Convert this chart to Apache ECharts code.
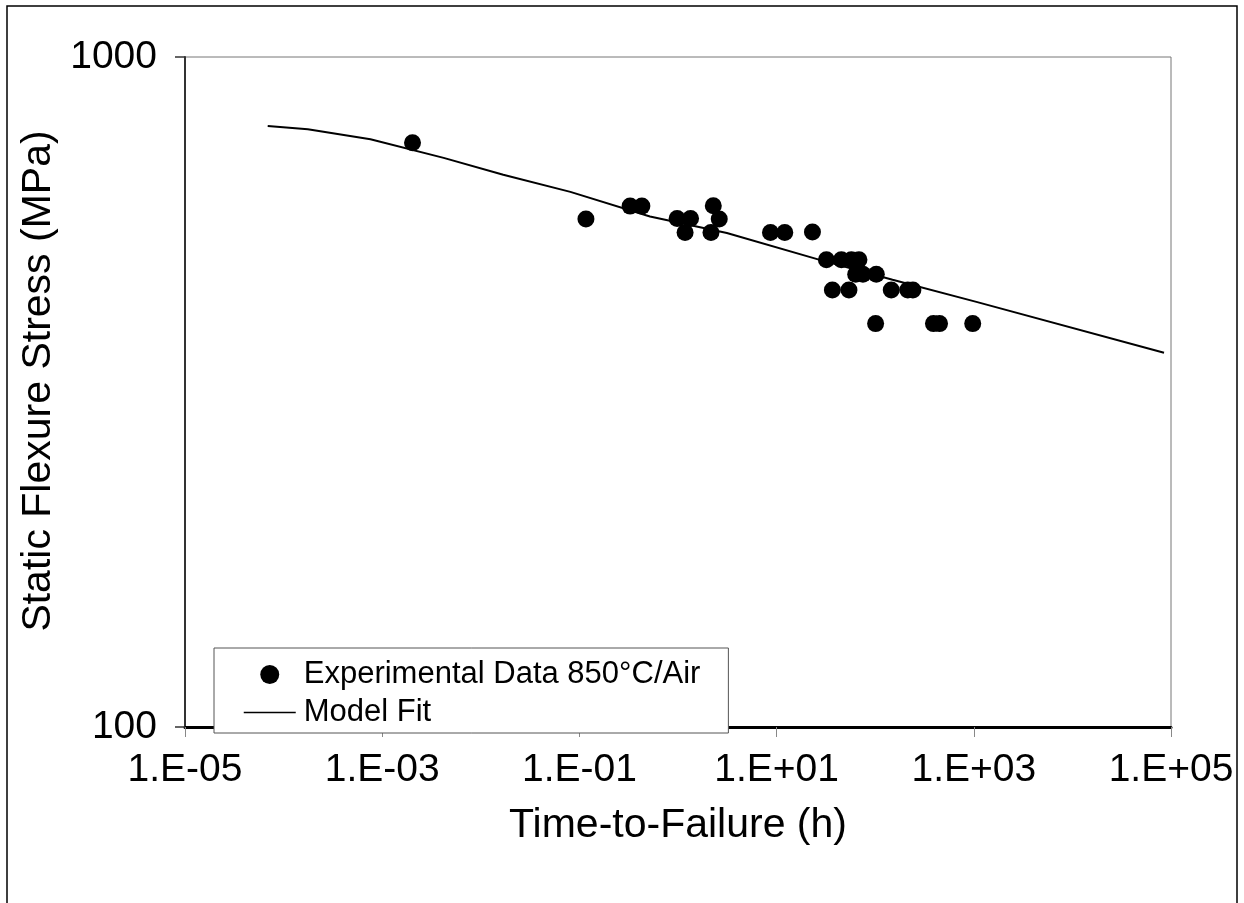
<!DOCTYPE html>
<html>
<head>
<meta charset="utf-8">
<title>Static Flexure Stress vs Time-to-Failure</title>
<script src="https://cdn.jsdelivr.net/npm/echarts@6/dist/echarts.min.js"></script>
<style>
  html, body { margin: 0; padding: 0; background: #fff; }
  #chart { width: 1244px; height: 903px; }
</style>
</head>
<body>
<div id="chart"></div>
<script>
// Experimental static fatigue data at 850°C in air
const expTime = [0.00203, 0.1165, 0.327, 0.43, 0.98, 1.34, 1.18, 2.28, 2.62, 2.16,
  8.67, 12.1, 23.1, 32, 45.4, 57.3, 68.4, 63.4, 75.1, 102.6,
  36.8, 54.2, 145.5, 214, 241, 101, 390, 449, 975];
const expStress = [745, 573, 599, 599, 574, 574, 547, 600, 573, 547,
  547, 547, 548, 498, 498, 498, 498, 474, 474, 474,
  449, 449, 449, 449, 449, 400, 400, 400, 400];

// Model fit curve
const fitTime = [6.9e-5, 1.76e-4, 7.6e-4, 4.2e-3, 0.0169, 0.081, 0.52, 3.13, 27.4, 150, 1062, 8.5e4];
const fitStress = [789, 780, 754, 707, 667, 629, 578, 546, 498, 465, 431, 362];

// Axis ticks and their labels
const xTicks = [1e-5, 1e-3, 1e-1, 1e1, 1e3, 1e5];
const xTickLabels = ['1.E-05', '1.E-03', '1.E-01', '1.E+01', '1.E+03', '1.E+05'];
const yTicks = [100, 1000];
const yTickLabels = ['100', '1000'];

const seriesNames = ['Experimental Data 850°C/Air', 'Model Fit'];

function labelFor(ticks, labels, v) {
  let best = 0, bestD = Infinity;
  ticks.forEach((t, i) => {
    const d = Math.abs(Math.log10(t) - Math.log10(v));
    if (d < bestD) { bestD = d; best = i; }
  });
  return bestD < 0.01 ? labels[best] : '';
}

const FONT = 'Liberation Sans, Arial, sans-serif';

const chart = echarts.init(document.getElementById('chart'), null, { renderer: 'canvas' });

chart.setOption({
  backgroundColor: '#fff',
  animation: false,
  textStyle: { fontFamily: FONT, color: '#000' },
  grid: {
    left: 185, right: 73, top: 57, bottom: 176,
    show: true, borderColor: '#777', borderWidth: 1, backgroundColor: '#fff'
  },
  xAxis: {
    type: 'log', logBase: 10, min: 1e-5, max: 1e5, interval: 2,
    name: 'Time-to-Failure (h)', nameLocation: 'middle', nameGap: 78,
    nameTextStyle: { fontSize: 41, fontFamily: FONT, color: '#000' },
    axisLine: { show: true, lineStyle: { color: '#000', width: 3 } },
    axisTick: { show: true, inside: false, length: 10, lineStyle: { color: '#888', width: 1 } },
    axisLabel: {
      fontSize: 39, fontFamily: FONT, color: '#000', margin: 24,
      formatter: v => labelFor(xTicks, xTickLabels, v)
    },
    splitLine: { show: false }, minorTick: { show: false }
  },
  yAxis: {
    type: 'log', logBase: 10, min: 100, max: 1000,
    name: 'Static Flexure Stress (MPa)', nameLocation: 'middle', nameGap: 107,
    nameTextStyle: { fontSize: 41, fontFamily: FONT, color: '#000', padding: [0, 0, 0, 22] },
    axisLine: { show: true, lineStyle: { color: '#333', width: 2 } },
    axisTick: { show: true, inside: false, length: 10, lineStyle: { color: '#333', width: 1.5 } },
    axisLabel: {
      fontSize: 39, fontFamily: FONT, color: '#000', margin: 28,
      formatter: v => labelFor(yTicks, yTickLabels, v)
    },
    splitLine: { show: false }, minorTick: { show: false }
  },
  legend: {
    orient: 'vertical', left: 214, top: 648,
    padding: [11, 28, 5, 29], itemGap: 7,
    itemWidth: 52, itemHeight: 19,
    backgroundColor: '#fff', borderColor: '#555', borderWidth: 1,
    textStyle: { fontSize: 31, fontFamily: FONT, color: '#000', padding: [0, 0, 0, 3] },
    data: [
      { name: seriesNames[0], icon: 'circle', itemStyle: { color: '#000', opacity: 1 } },
      { name: seriesNames[1], itemStyle: { opacity: 0 }, lineStyle: { color: '#000', width: 1.5, opacity: 1 } }
    ]
  },
  graphic: [{
    type: 'rect', silent: true, z: 100,
    shape: { x: 7, y: 6, width: 1230, height: 920 },
    style: { fill: 'none', stroke: '#000', lineWidth: 1.5 }
  }],
  series: [
    {
      name: seriesNames[0], type: 'scatter', symbol: 'circle', symbolSize: 17,
      itemStyle: { color: '#000', opacity: 1 },
      data: expTime.map((t, i) => [t, expStress[i]]), z: 3
    },
    {
      name: seriesNames[1], type: 'line', symbol: 'none', smooth: false,
      lineStyle: { color: '#000', width: 2 }, itemStyle: { color: '#000' },
      data: fitTime.map((t, i) => [t, fitStress[i]]), z: 2
    }
  ]
});
</script>
</body>
</html>
